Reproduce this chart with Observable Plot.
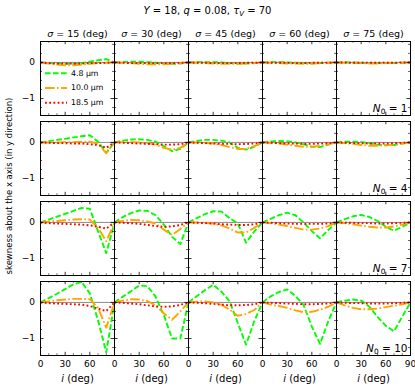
<!DOCTYPE html>
<html><head><meta charset="utf-8">
<script src="https://cdn.jsdelivr.net/npm/d3@7"></script>
<script src="https://cdn.jsdelivr.net/npm/@observablehq/plot@0.6"></script>
<style>
body{margin:0;background:#fff;}
#wrap{position:relative;width:415px;height:389px;font-family:"DejaVu Sans",sans-serif;color:#000;}
#title{height:22px;line-height:22px;text-align:center;font-size:10px;white-space:nowrap;}
#title sub{font-size:7px;vertical-align:-2px;line-height:0;}
</style></head><body>
<div id="wrap">
<div id="title"><i>Y</i> = 18, <i>q</i> = 0.08, <i>τ</i><sub><i>V</i></sub> = 70</div>
<div id="chart"></div>
</div>
<script>
// ---- categories & ticks ----
const inclinations = [0, 10, 20, 30, 40, 50, 60, 70, 80, 90];
const sigmas = [15, 30, 45, 60, 75];
const N0s = [1, 4, 7, 10];
const wavelengths = ["4.8", "10.0", "18.5"];
const xTickValues = [0, 30, 60, 90];
const xMinorValues = [10, 20, 40, 50, 70, 80];
const yTickValues = [0, -1];
const yMinorValues = [-1.25, -0.75, -0.5, -0.25, 0.25, 0.5];

// ---- values: one list per sigma column, values at each inclination ----
const s48_N1 = [
  [0,-0.02,-0.03,-0.04,-0.04,-0.02,0.02,0.06,0.09,0],
  [0,0.01,0.02,0.02,0.01,-0.01,-0.03,-0.04,-0.03,0],
  [0,0.01,0.01,0.01,0,-0.02,-0.03,-0.03,-0.02,0],
  [0,0.01,0.01,0,-0.01,-0.02,-0.03,-0.02,-0.01,0],
  [0,0,0,-0.01,-0.02,-0.02,-0.02,-0.02,-0.01,0]];
const s100_N1 = [
  [0,-0.03,-0.06,-0.08,-0.08,-0.06,-0.04,-0.02,-0.01,0],
  [0,-0.01,-0.02,-0.04,-0.05,-0.05,-0.05,-0.04,-0.02,0],
  [0,-0.01,-0.02,-0.03,-0.04,-0.04,-0.04,-0.03,-0.02,0],
  [0,-0.01,-0.02,-0.03,-0.03,-0.04,-0.03,-0.02,-0.01,0],
  [0,-0.01,-0.02,-0.02,-0.03,-0.03,-0.02,-0.02,-0.01,0]];
const s185_N1 = [
  [0,-0.02,-0.03,-0.03,-0.03,-0.03,-0.02,-0.02,-0.01,0],
  [0,-0.01,-0.02,-0.02,-0.02,-0.02,-0.02,-0.02,-0.01,0],
  [0,-0.01,-0.01,-0.02,-0.02,-0.02,-0.02,-0.01,-0.01,0],
  [0,-0.01,-0.01,-0.01,-0.02,-0.02,-0.01,-0.01,-0.01,0],
  [0,0,-0.01,-0.01,-0.01,-0.01,-0.01,-0.01,0,0]];

const s48_N4 = [
  [0,0.035,0.07,0.1,0.14,0.17,0.2,0.02,-0.28,0],
  [0,0.05,0.08,0.09,0.07,0.02,-0.1,-0.24,-0.18,0],
  [0,0.04,0.07,0.07,0.05,0,-0.15,-0.2,-0.12,0],
  [0,0.03,0.04,0.03,0,-0.05,-0.12,-0.13,-0.06,0],
  [0,0.02,0.02,0.01,-0.02,-0.06,-0.08,-0.07,-0.03,0]];
const s100_N4 = [
  [0,0,0,0.01,0.01,0.02,0.02,-0.03,-0.3,0],
  [0,0.01,0.01,0,-0.02,-0.06,-0.15,-0.2,-0.15,0],
  [0,0,-0.01,-0.03,-0.07,-0.13,-0.18,-0.18,-0.1,0],
  [0,-0.01,-0.03,-0.06,-0.09,-0.12,-0.12,-0.1,-0.05,0],
  [0,-0.02,-0.04,-0.07,-0.09,-0.09,-0.08,-0.06,-0.03,0]];
const s185_N4 = [
  [0,-0.01,-0.02,-0.02,-0.03,-0.03,-0.05,-0.07,-0.15,0],
  [0,-0.01,-0.02,-0.03,-0.04,-0.05,-0.06,-0.06,-0.05,0],
  [0,-0.01,-0.02,-0.03,-0.04,-0.04,-0.05,-0.04,-0.03,0],
  [0,-0.01,-0.02,-0.03,-0.03,-0.04,-0.04,-0.03,-0.02,0],
  [0,-0.01,-0.02,-0.02,-0.03,-0.03,-0.03,-0.02,-0.01,0]];

const s48_N7 = [
  [0,0.08,0.16,0.24,0.32,0.4,0.38,-0.25,-0.85,0],
  [0,0.15,0.26,0.33,0.32,0.2,-0.06,-0.4,-0.6,0],
  [0,0.12,0.23,0.31,0.3,0.12,-0.03,-0.56,-0.25,0],
  [0,0.1,0.2,0.27,0.2,0,-0.24,-0.44,-0.21,0],
  [0,0.09,0.17,0.21,0.15,0.04,-0.12,-0.23,-0.12,0]];
const s100_N7 = [
  [0,0.02,0.04,0.06,0.08,0.09,0.08,-0.15,-0.52,0],
  [0,0.04,0.07,0.06,0.03,-0.03,-0.2,-0.35,-0.18,0],
  [0,0,-0.01,-0.03,-0.08,-0.17,-0.28,-0.28,-0.15,0],
  [0,-0.02,-0.06,-0.1,-0.15,-0.2,-0.2,-0.17,-0.1,0],
  [0,-0.02,-0.05,-0.09,-0.12,-0.14,-0.14,-0.11,-0.06,0]];
const s185_N7 = [
  [0,-0.02,-0.03,-0.04,-0.05,-0.06,-0.08,-0.12,-0.17,0],
  [0,-0.01,-0.02,-0.04,-0.07,-0.1,-0.12,-0.11,-0.07,0],
  [0,-0.01,-0.02,-0.03,-0.05,-0.06,-0.07,-0.07,-0.05,0],
  [0,-0.01,-0.02,-0.03,-0.04,-0.04,-0.04,-0.04,-0.03,0],
  [0,-0.01,-0.01,-0.02,-0.02,-0.03,-0.03,-0.02,-0.01,0]];

const s48_N10 = [
  [0,0.12,0.24,0.37,0.5,0.57,0.25,-0.5,-1.38,0],
  [0,0.16,0.31,0.47,0.45,0.16,-0.35,-1.0,-1.0,0],
  [0,0.17,0.34,0.49,0.3,0.03,-0.57,-1.17,-0.52,0],
  [0,0.17,0.29,0.36,0.18,-0.07,-0.67,-1.15,-0.52,0],
  [0,0.05,0.08,0.05,-0.12,-0.4,-0.65,-0.8,-0.39,0]];
const s100_N10 = [
  [0,0.03,0.06,0.08,0.1,0.1,0.09,-0.15,-0.7,0],
  [0,0.05,0.09,0.08,0.04,-0.08,-0.3,-0.48,-0.25,0],
  [0,0.02,0.03,0,-0.06,-0.2,-0.37,-0.32,-0.21,0],
  [0,-0.06,-0.1,-0.15,-0.22,-0.27,-0.26,-0.2,-0.12,0],
  [0,-0.08,-0.15,-0.19,-0.19,-0.17,-0.13,-0.09,-0.05,0]];
const s185_N10 = [
  [0,-0.02,-0.03,-0.04,-0.05,-0.06,-0.1,-0.17,-0.24,0],
  [0,-0.01,-0.03,-0.05,-0.08,-0.11,-0.12,-0.11,-0.07,0],
  [0,-0.01,-0.02,-0.04,-0.06,-0.08,-0.08,-0.07,-0.05,0],
  [0,-0.01,-0.02,-0.03,-0.04,-0.05,-0.05,-0.04,-0.03,0],
  [0,-0.01,-0.02,-0.02,-0.03,-0.03,-0.03,-0.02,-0.01,0]];

// ---- build the table ----
const byWavelength = {
  "4.8": [s48_N1, s48_N4, s48_N7, s48_N10],
  "10.0": [s100_N1, s100_N4, s100_N7, s100_N10],
  "18.5": [s185_N1, s185_N4, s185_N7, s185_N10]
};
const rows = [];
for (const wl of wavelengths) {
  byWavelength[wl].forEach((grid, r) => {
    grid.forEach((vals, c) => {
      vals.forEach((v, k) => rows.push({wl, N0: N0s[r], sigma: sigmas[c], i: inclinations[k], s: v}));
    });
  });
}

// ---- styles ----
const lineStyles = {
  "4.8": {stroke: "#00ff00", dash: "5.6,2.4"},
  "10.0": {stroke: "#ffa500", dash: "9.6,2.4,1.6,2.4"},
  "18.5": {stroke: "#ff0000", dash: "1.8,2.4"}
};
const LW = 1.9;

const W = 415, H = 367, mt = 18, mb = 33, ml = 40, mr = 5;
const padY = 0.078;
const bandW = (W - ml - mr) / sigmas.length;
const bandH = (H - mt - mb) / (N0s.length - padY) * (1 - padY);
const TL = 3.5, TM = 2;
const fmt = d => d < 0 ? "\u2212" + Math.abs(d) : String(d);

const bottomRow = N0s[N0s.length - 1];
const lastCol = sigmas[sigmas.length - 1];
const xLabelData = sigmas.flatMap(s => xTickValues.filter(t => t !== 90 || s === lastCol).map(t => ({sigma: s, N0: bottomRow, t})));
const xTitleData = sigmas.map(s => ({sigma: s, N0: bottomRow}));
const n0Data = N0s.map(n => ({sigma: lastCol, N0: n}));

const lineMarks = wavelengths.map(wl => Plot.line(rows.filter(d => d.wl === wl), {
  x: "i", y: "s", fx: "sigma", fy: "N0", z: null,
  stroke: lineStyles[wl].stroke, strokeWidth: LW, strokeDasharray: lineStyles[wl].dash,
  strokeLinecap: "butt", strokeLinejoin: "round"
}));

const chart = Plot.plot({
  width: W, height: H,
  marginTop: mt, marginBottom: mb, marginLeft: ml, marginRight: mr,
  style: {fontFamily: "'DejaVu Sans', sans-serif", fontSize: "9px", background: "white", color: "black", overflow: "visible"},
  x: {domain: [0, 90], axis: null},
  y: {domain: [-1.47, 0.58], axis: null},
  fx: {domain: sigmas, paddingInner: 0, paddingOuter: 0, axis: null},
  fy: {domain: N0s, paddingInner: padY, paddingOuter: 0, axis: null},
  marks: [
    Plot.ruleY([0], {stroke: "#8c8c8c", strokeWidth: 1}),
    ...lineMarks,
    Plot.frame({stroke: "black", strokeWidth: 1}),
    // inward major/minor ticks on all four sides
    Plot.tickX(xTickValues, {x: d => d, insetTop: bandH - TL, stroke: "black", strokeWidth: 0.8}),
    Plot.tickX(xTickValues, {x: d => d, insetBottom: bandH - TL, stroke: "black", strokeWidth: 0.8}),
    Plot.tickX(xMinorValues, {x: d => d, insetTop: bandH - TM, stroke: "black", strokeWidth: 0.6}),
    Plot.tickX(xMinorValues, {x: d => d, insetBottom: bandH - TM, stroke: "black", strokeWidth: 0.6}),
    Plot.tickY(yTickValues, {y: d => d, insetRight: bandW - TL, stroke: "black", strokeWidth: 0.8}),
    Plot.tickY(yTickValues, {y: d => d, insetLeft: bandW - TL, stroke: "black", strokeWidth: 0.8}),
    Plot.tickY(yMinorValues, {y: d => d, insetRight: bandW - TM, stroke: "black", strokeWidth: 0.6}),
    Plot.tickY(yMinorValues, {y: d => d, insetLeft: bandW - TM, stroke: "black", strokeWidth: 0.6}),
    Plot.axisFx({anchor: "top", tickSize: 0, tickPadding: 5, label: null, fontSize: 9.5, tickFormat: d => `σ = ${d} (deg)`}),
    Plot.axisY(yTickValues, {anchor: "left", tickSize: 0, tickPadding: 5.5, label: null, fontSize: 9, tickFormat: fmt}),
    Plot.text(xLabelData, {fx: "sigma", fy: "N0", x: "t", text: d => String(d.t), frameAnchor: "bottom", lineAnchor: "top", dy: 5.5, fontSize: 9}),
    Plot.text(xTitleData, {fx: "sigma", fy: "N0", text: () => "i (deg)", frameAnchor: "bottom", lineAnchor: "top", dy: 19, fontSize: 10}),
    Plot.text(n0Data, {fx: "sigma", fy: "N0", text: d => `N0 = ${d.N0}`, frameAnchor: "bottom-right", textAnchor: "end", lineAnchor: "bottom", dx: -3, dy: -4, fontSize: 10.5})
  ]
});

// ---- rich text post-processing (italics / subscripts) ----
d3.select(chart).selectAll("text").each(function() {
  const t = this.textContent;
  const sel = d3.select(this);
  let m;
  if ((m = t.match(/^σ = (.*)$/))) {
    sel.text(null);
    sel.append("tspan").attr("font-style", "italic").text("σ");
    sel.append("tspan").text(" = " + m[1]);
  } else if (t === "i (deg)") {
    sel.text(null);
    sel.append("tspan").attr("font-style", "italic").text("i");
    sel.append("tspan").text(" (deg)");
  } else if ((m = t.match(/^N0 = (.*)$/))) {
    sel.text(null);
    sel.append("tspan").attr("font-style", "italic").text("N");
    sel.append("tspan").attr("font-size", "0.7em").attr("dy", "0.3em").text("0");
    sel.append("tspan").attr("dy", "-0.21em").text(" = " + m[1]);
  }
});

// y-axis title
d3.select(chart).append("text")
  .attr("transform", `translate(9,${186 - 22}) rotate(-90)`)
  .attr("text-anchor", "middle").attr("dominant-baseline", "central")
  .attr("font-size", 8.5).attr("fill", "black")
  .text("skewness about the x axis (in y direction)");

// legend inside the first panel
const lg = d3.select(chart).append("g").attr("transform", `translate(${ml + 5},${mt + 33.3})`);
const legendLabels = wavelengths.map(w => w + " μm");
wavelengths.forEach((wl, k) => {
  const y = k * 14.7;
  lg.append("line").attr("x1", 0).attr("x2", 22).attr("y1", y).attr("y2", y)
    .attr("stroke", lineStyles[wl].stroke).attr("stroke-width", LW)
    .attr("stroke-dasharray", lineStyles[wl].dash).attr("stroke-linecap", "butt");
  lg.append("text").attr("x", 26).attr("y", y).attr("dominant-baseline", "central")
    .attr("text-anchor", "start")
    .attr("font-size", 7.8).attr("fill", "black").text(legendLabels[k]);
});

document.getElementById("chart").appendChild(chart);
</script>
</body></html>
